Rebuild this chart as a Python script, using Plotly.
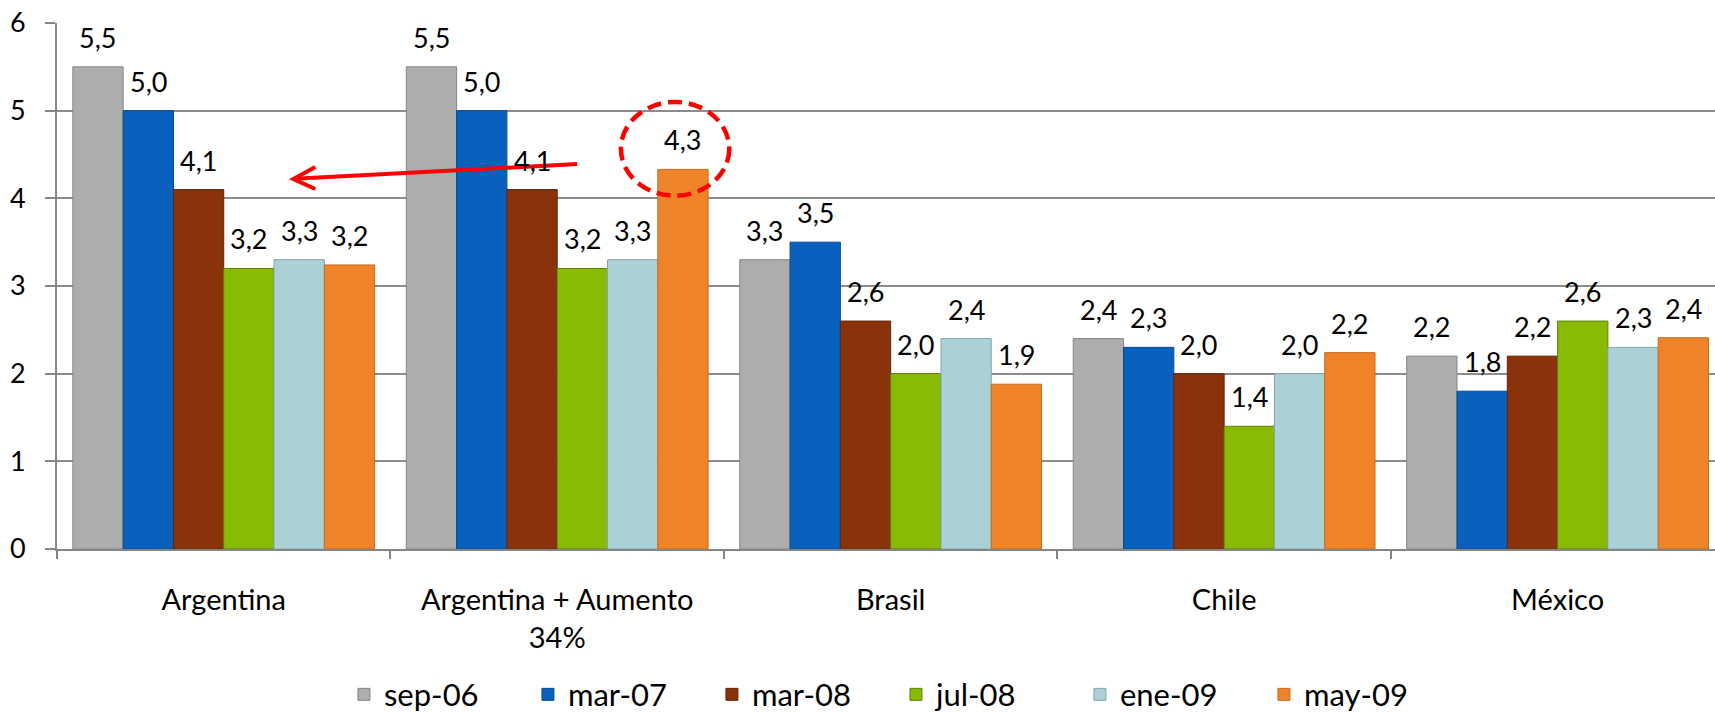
import plotly.graph_objects as go

categories = ["Argentina", "Argentina + Aumento<br>34%", "Brasil", "Chile", "México"]
series_names = ["sep-06", "mar-07", "mar-08", "jul-08", "ene-09", "may-09"]
sep06 = [5.5, 5.5, 3.3, 2.4, 2.2]
mar07 = [5.0, 5.0, 3.5, 2.3, 1.8]
mar08 = [4.1, 4.1, 2.6, 2.0, 2.2]
jul08 = [3.2, 3.2, 2.0, 1.4, 2.6]
ene09 = [3.3, 3.3, 2.4, 2.0, 2.3]
may09 = [3.24, 4.33, 1.88, 2.24, 2.41]
y_ticks = [0, 1, 2, 3, 4, 5, 6]

series = [sep06, mar07, mar08, jul08, ene09, may09]
colors = ["#ADADAD", "#0A60BD", "#8A330A", "#89BA04", "#ABD1D7", "#EF8328"]
edges = ["#858585", "#084A92", "#62240A", "#5F800A", "#84A6AB", "#C86A20"]

FONT = "Lato"
BARGAP = 0.095

fig = go.Figure()
for name, vals, c, e in zip(series_names, series, colors, edges):
    fig.add_trace(go.Bar(
        name=name, x=categories, y=vals,
        marker=dict(color=c, line=dict(color=e, width=1)),
    ))

# data labels above bars
n = len(series)
bw = (1 - BARGAP) / n
for i, vals in enumerate(series):
    for j, v in enumerate(vals):
        fig.add_annotation(
            x=j + (i - (n - 1) / 2) * bw, y=v, xref="x", yref="y",
            text=f"{v:.1f}".replace(".", ","), showarrow=False,
            yanchor="bottom", yshift=11,
            font=dict(family=FONT, size=27, color="black"),
        )

# red arrow
fig.add_shape(type="line", xref="x", yref="y",
              x0=1.060, y0=4.391, x1=0.212, y1=4.222,
              line=dict(color="#FF0000", width=4))
fig.add_shape(type="path", xref="x", yref="y",
              xsizemode="pixel", ysizemode="pixel",
              xanchor=0.2086, yanchor=4.220,
              path="M 22,12 L 0,0 L 22,-10",
              line=dict(color="#FF0000", width=4))
# dashed ellipse
fig.add_shape(type="circle", xref="x", yref="y",
              x0=1.191, x1=1.516, y0=4.03, y1=5.10,
              line=dict(color="#FF0000", width=4.5, dash="14px,7px"))

fig.update_layout(
    width=1715, height=713,
    margin=dict(l=57, r=0, t=23, b=164, autoexpand=False),
    barmode="group", bargap=BARGAP, bargroupgap=0,
    plot_bgcolor="white", paper_bgcolor="white",
    font=dict(family=FONT, color="black"),
    showlegend=True,
    legend=dict(orientation="h", x=0.506, xanchor="center", y=-0.277, yanchor="middle",
                font=dict(family=FONT, size=31, color="black"),
                entrywidth=139, entrywidthmode="pixels", traceorder="normal"),
)
fig.update_xaxes(
    range=[-0.5, 4.472], showline=True, linecolor="#868686", linewidth=2,
    ticks="outside", tickson="boundaries", ticklen=8, tickcolor="#868686", tickwidth=2,
    tickfont=dict(family=FONT, size=29, color="black"), ticklabelstandoff=24,
    showgrid=False, fixedrange=True,
)
fig.update_yaxes(
    range=[0, 6], tickvals=y_ticks, showline=True, linecolor="#868686", linewidth=2,
    ticks="outside", ticklen=10, tickcolor="#868686", tickwidth=2,
    showgrid=True, gridcolor="#8C8C8C", gridwidth=1.5, zeroline=False,
    tickfont=dict(family=FONT, size=27, color="black"), ticklabelstandoff=14,
)

fig.write_html(
    "out.html",
    config={"displayModeBar": False},
    post_script="document.body.style.margin='0';document.body.style.overflow='hidden';",
)
